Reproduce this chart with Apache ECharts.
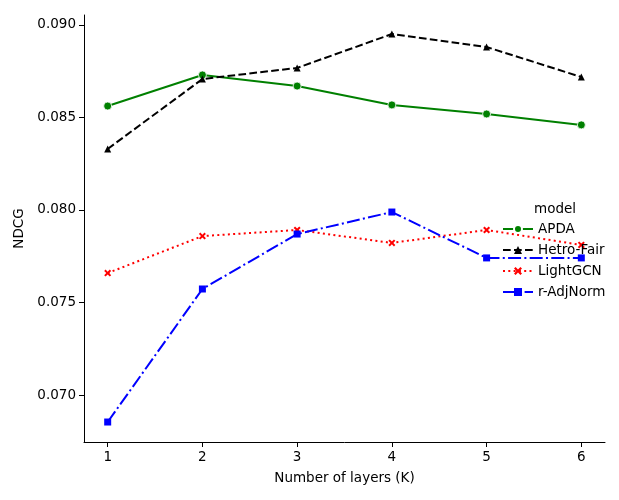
<!DOCTYPE html>
<html><head><meta charset="utf-8">
<script src="https://cdn.jsdelivr.net/npm/echarts@6/dist/echarts.min.js"></script>
<style>html,body{margin:0;padding:0;background:#fff}#c{width:619px;height:500px}</style>
</head><body><div id="c"></div>
<script>
const layers = [1, 2, 3, 4, 5, 6];
const apda = [0.08562, 0.0873, 0.0867, 0.08568, 0.08519, 0.0846];
const hetroFair = [0.0833, 0.08708, 0.08768, 0.08951, 0.08881, 0.08719];
const lightGCN = [0.07659, 0.07859, 0.07892, 0.07822, 0.07892, 0.07811];
const rAdjNorm = [0.06854, 0.07573, 0.0787, 0.07989, 0.07741, 0.07741];
const yTicks = [0.070, 0.075, 0.080, 0.085, 0.090];
const xTicks = [1, 2, 3, 4, 5, 6];

const font = 'DejaVu Sans';
const xShape = 'path://M0,2 L2,0 L5,3 L8,0 L10,2 L7,5 L10,8 L8,10 L5,7 L2,10 L0,8 L3,5 Z';
function mk(name, data, color, type, symbol, size) {
  return {
    name, type: 'line', data: layers.map((x, i) => [x, data[i]]),
    symbol, symbolSize: size, showSymbol: true,
    lineStyle: { color, width: 2, type },
    itemStyle: { color, borderColor: '#fff', borderWidth: symbol === 'circle' ? 0.8 : 0 },
    emphasis: { disabled: true }, z: 2
  };
}
const chart = echarts.init(document.getElementById('c'), null, { renderer: 'canvas' });
chart.setOption({
  animation: false,
  backgroundColor: '#fff',
  textStyle: { fontFamily: font },
  grid: { left: 84, right: 14, top: 15, bottom: 58, containLabel: false },
  xAxis: {
    type: 'value', min: 0.75, max: 6.25,
    name: 'Number of layers (K)', nameLocation: 'middle', nameGap: 29,
    nameTextStyle: { color: '#000', fontSize: 13.5, fontFamily: font },
    axisLine: { lineStyle: { color: '#000', width: 1 } },
    axisTick: { show: true, length: 5, lineStyle: { color: '#000' }, customValues: xTicks },
    axisLabel: { color: '#000', fontSize: 13.5, fontFamily: font, margin: 8, customValues: xTicks },
    splitLine: { show: false }
  },
  yAxis: {
    type: 'value', min: 0.06746, max: 0.09054,
    name: 'NDCG', nameLocation: 'middle', nameGap: 53, nameRotate: 90,
    nameTextStyle: { color: '#000', fontSize: 13.5, fontFamily: font },
    axisLine: { show: true, lineStyle: { color: '#000', width: 1 } },
    axisTick: { show: true, length: 5, lineStyle: { color: '#000' }, customValues: yTicks },
    axisLabel: { color: '#000', fontSize: 13.5, fontFamily: font, margin: 8, customValues: yTicks,
      formatter: v => v.toFixed(3) },
    splitLine: { show: false }
  },
  title: { text: 'model', left: 529, top: 197, textStyle: { fontSize: 13.5, fontWeight: 'normal', color: '#000', fontFamily: font } },
  legend: {
    orient: 'vertical', left: 497, top: 217, itemWidth: 30, itemHeight: 10, itemGap: 7,
    textStyle: { color: '#000', fontSize: 13.5, fontFamily: font },
    data: ['APDA', 'Hetro-Fair', 'LightGCN', 'r-AdjNorm']
  },
  series: [
    mk('APDA', apda, '#008000', 'solid', 'circle', 8),
    mk('Hetro-Fair', hetroFair, '#000000', [7.7, 3.3], 'triangle', 7),
    mk('LightGCN', lightGCN, '#ff0000', [2, 3.3], xShape, 7),
    mk('r-AdjNorm', rAdjNorm, '#0000ff', [13, 3.3, 2, 3.3], 'rect', 7)
  ]
});
</script></body></html>
